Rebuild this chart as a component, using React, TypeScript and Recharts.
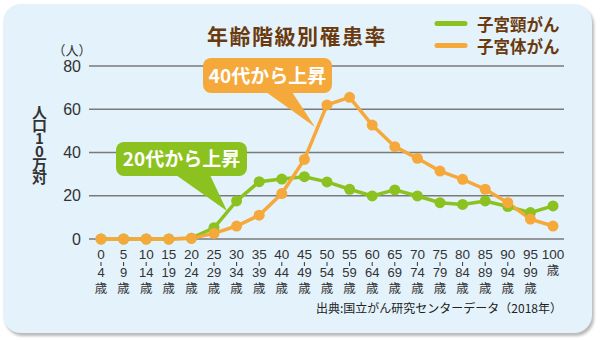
import React from 'react';
import { LineChart, Line, XAxis, YAxis, CartesianGrid } from 'recharts';

const ageStart = ['0', '5', '10', '15', '20', '25', '30', '35', '40', '45', '50', '55', '60', '65', '70', '75', '80', '85', '90', '95', '100'];
const ageEnd = ['4', '9', '14', '19', '24', '29', '34', '39', '44', '49', '54', '59', '64', '69', '74', '79', '84', '89', '94', '99', ''];
const cervical = [0, 0, 0, 0, 0.4, 5.2, 17.6, 26.5, 27.7, 28.8, 26.4, 23, 19.9, 22.7, 19.9, 16.8, 16, 17.6, 15, 12.2, 15.3];
const corpus = [0, 0, 0, 0, 0.3, 2.6, 6, 11, 21, 36.8, 62, 65.5, 52.7, 42.7, 37.3, 31.4, 27.6, 23, 16.8, 9.2, 6];
const yTicks = [0, 20, 40, 60, 80];

const seriesNames = ['子宮頸がん', '子宮体がん'];
const GREEN = '#8cc21f';
const ORANGE = '#f5a93b';
const BROWN = '#6a3a0e';
const FONT = '"Liberation Sans", "Noto Sans CJK JP", sans-serif';
const CJK = '"Noto Sans CJK JP", "Liberation Sans", sans-serif';

const data = ageStart.map((s, i) => ({
  age: s,
  end: ageEnd[i],
  cervical: cervical[i],
  corpus: corpus[i],
}));

const XTick = (props: any) => {
  const { x, y, index } = props;
  const start = ageStart[index];
  const end = ageEnd[index];
  const top = y - 8;
  if (!end) {
    return (
      <g>
        <text x={x} y={top + 20} textAnchor="middle" fontSize={13.5} fill="#333" fontFamily={FONT}>{start}</text>
        <text x={x} y={top + 35.5} textAnchor="middle" fontSize={12.5} fill="#333" fontFamily={FONT}>歳</text>
      </g>
    );
  }
  return (
    <g>
      <text x={x} y={top + 20} textAnchor="middle" fontSize={13.5} fill="#333" fontFamily={FONT}>{start}</text>
      <line x1={x} x2={x} y1={top + 23} y2={top + 27} stroke="#333" strokeWidth={1} />
      <text x={x} y={top + 38} textAnchor="middle" fontSize={13} fill="#333" fontFamily={FONT}>{end}</text>
      <text x={x} y={top + 53.5} textAnchor="middle" fontSize={12.5} fill="#333" fontFamily={FONT}>歳</text>
    </g>
  );
};

export default function App() {
  return (
    <div style={{ position: 'absolute', left: 0, top: 0, width: 600, height: 341, background: '#fff', overflow: 'hidden' }}>
      <div
        style={{
          position: 'absolute',
          left: 3,
          top: 4,
          width: 589,
          height: 329,
          borderRadius: 18,
          background: '#e4f2fb',
          boxShadow: '2px 3px 3px rgba(0,0,0,0.28)',
        }}
      />
      <div style={{ position: 'absolute', left: 0, top: 0 }}>
        <LineChart width={600} height={341} data={data} margin={{ top: 66, right: 36, bottom: 72, left: 0 }}>
          <CartesianGrid vertical={false} horizontal stroke="#7a7a7a" strokeWidth={1.3} />
          <XAxis
            dataKey="age"
            scale="point"
            padding={{ left: 12, right: 11 }}
            axisLine={false}
            tickLine={false}
            interval={0}
            height={30}
            tick={<XTick />}
          />
          <YAxis
            domain={[0, 80]}
            ticks={yTicks}
            width={89}
            axisLine={false}
            tickLine={false}
            tick={{ fontSize: 16, fill: '#333', fontFamily: FONT }}
          />
          <Line
            type="linear"
            dataKey="cervical"
            name={seriesNames[0]}
            stroke={GREEN}
            strokeWidth={3.5}
            dot={{ r: 5.5, fill: GREEN, stroke: GREEN, strokeWidth: 0 }}
            isAnimationActive={false}
          />
          <Line
            type="linear"
            dataKey="corpus"
            name={seriesNames[1]}
            stroke={ORANGE}
            strokeWidth={3.5}
            dot={{ r: 5.5, fill: ORANGE, stroke: ORANGE, strokeWidth: 0 }}
            isAnimationActive={false}
          />
        </LineChart>
      </div>
      <div
        style={{
          position: 'absolute',
          left: 30,
          top: 105,
          writingMode: 'vertical-rl',
          textOrientation: 'upright',
          fontFamily: CJK,
          fontSize: 15,
          fontWeight: 'bold',
          color: '#333',
          lineHeight: '18px',
          letterSpacing: '-2px',
        }}
      >
        人口10万対
      </div>
      <svg width={600} height={341} style={{ position: 'absolute', left: 0, top: 0, pointerEvents: 'none' }}>
        <text x={297} y={44} textAnchor="middle" fontSize={21} fontWeight="bold" fill={BROWN} fontFamily={CJK} letterSpacing={1.5}>
          年齢階級別罹患率
        </text>
        <line x1={437} x2={465} y1={23.5} y2={23.5} stroke={GREEN} strokeWidth={5} strokeLinecap="round" />
        <text x={477} y={31} fontSize={16.5} fontWeight="bold" fill={BROWN} fontFamily={CJK}>{seriesNames[0]}</text>
        <line x1={437} x2={465} y1={45.5} y2={45.5} stroke={ORANGE} strokeWidth={5} strokeLinecap="round" />
        <text x={477} y={53} fontSize={16.5} fontWeight="bold" fill={BROWN} fontFamily={CJK}>{seriesNames[1]}</text>

        <text x={72} y={55} textAnchor="middle" fontSize={13} fill="#333" fontFamily={CJK}>（人）</text>

        {/* orange callout */}
        <rect x={203} y={58} width={129} height={35} rx={8} fill={ORANGE} />
        <polygon points="266,92 292,92 315,127" fill={ORANGE} />
        <text x={267.5} y={83} textAnchor="middle" fontSize={19} fontWeight="bold" fill="#fff" fontFamily={CJK}>
          40代から上昇
        </text>

        {/* green callout */}
        <rect x={116} y={142} width={131} height={34} rx={8} fill={GREEN} />
        <polygon points="176,175 210,175 227,211" fill={GREEN} />
        <text x={181.5} y={166} textAnchor="middle" fontSize={19} fontWeight="bold" fill="#fff" fontFamily={CJK}>
          20代から上昇
        </text>

        <text x={562} y={313} textAnchor="end" fontSize={12} fill="#222" fontFamily={CJK}>
          出典:国立がん研究センターデータ（2018年）
        </text>
      </svg>
    </div>
  );
}
